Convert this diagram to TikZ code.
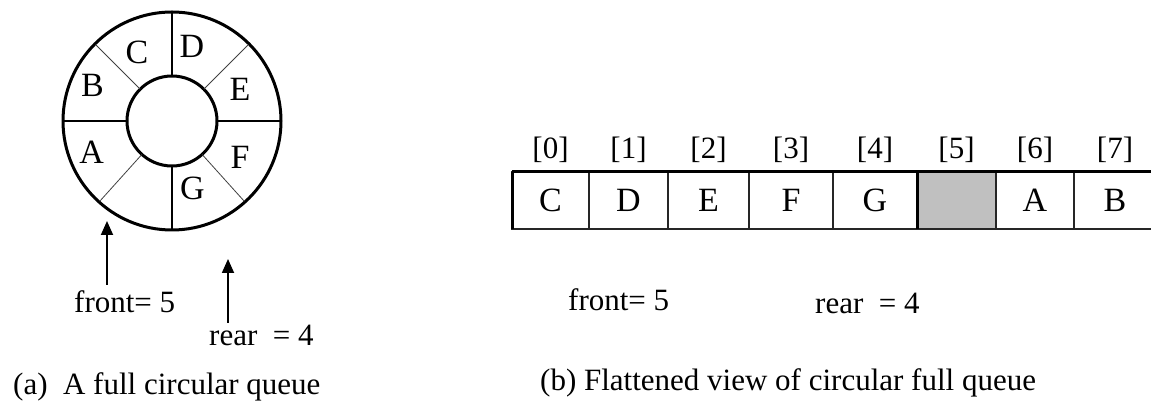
\documentclass[tikz,border=0pt]{standalone}
\usepackage{fontspec}
\setmainfont{Liberation Serif}
\usetikzlibrary{arrows.meta,calc}

\definecolor{slotgray}{RGB}{192,192,192}
\tikzset{txt/.style={inner sep=0pt,font=\fontsize{31}{36}\selectfont},
         letter/.style={inner sep=0pt,font=\fontsize{34}{38}\selectfont},
         ringline/.style={line width=1.4pt},
         ringdiag/.style={line width=0.8pt,black!75},
         cellbox/.style={letter,draw=black!85,line width=1.2pt,minimum height=57pt,outer sep=0pt},
         heavy/.style={line width=3pt},
         ptr/.style={line width=1.8pt,-{Triangle[length=14pt,width=12pt]}}}

\begin{document}
\begin{tikzpicture}[x=1pt,y=1pt]
                  \useasboundingbox (0,0) rectangle (1151,401);
                  % (a) the ring
                  \coordinate (ctr) at (172,280);
                  \draw[line width=3pt] (ctr) circle (109);
                  \draw[line width=3pt] (ctr) circle (45);
                  \foreach \a in {0,90,180,270}
                    \draw[ringline] ($(ctr)+(\a:45)$) -- ($(ctr)+(\a:109)$);
                  \foreach \a in {45,135,228,312}
                    \draw[ringdiag] ($(ctr)+(\a:45)$) -- ($(ctr)+(\a:108)$);
                  \foreach \v/\a/\r in {C/117/77,D/75/77,E/25/75,F/-28/77,G/-73/70,A/201/86,B/156/87}
                    \node[letter] (r\v) at ($(ctr)+(\a:\r)$) {\v};
                  % front and rear pointers
                  \node[txt,anchor=west] (front) at (74,99) {front= 5};
                  \node[txt,anchor=west] (rear) at (209,66) {rear\ \ = 4};
                  \coordinate (ftail) at (107,116);
                  \coordinate (fhead) at (107,180);
                  \coordinate (rtail) at (228,78);
                  \coordinate (rhead) at (228,142);
                  \draw[ptr] (ftail) -- (fhead);
                  \draw[ptr] (rtail) -- (rhead);
                  \node[txt,anchor=west] (capa) at (13,14) {(a)\ \ A full circular queue};
                  % (b) the array
                  \foreach \i/\xa/\xb/\v/\f in {0/512/589/C/white,1/589/668/D/white,2/668/749/E/white,
                      3/749/833/F/white,4/833/917/G/white,5/917/996/{}/slotgray,6/996/1074/A/white,7/1074/1156/B/white}{
                    \pgfmathsetmacro\w{\xb-\xa}
                    \node[cellbox,fill=\f,minimum width=\w pt] (c\i) at ({(\xa+\xb)/2},200.5) {\v};
                    \node[txt] (i\i) at ({(\xa+\xb)/2},251) {[\i]};
                  }
                  \draw[heavy] (c0.north west) -- (c7.north east);
                  \draw[heavy] (c0.north west) -- (c0.south west);
                  \draw[heavy] (c5.north west) -- (c5.south west);
                  \node[txt,anchor=west] (frontb) at (568,101) {front= 5};
                  \node[txt,anchor=west] (rearb) at (815,98) {rear\ \ = 4};
                  \node[txt,anchor=west] (capb) at (540,18) {(b) Flattened view of circular full queue};
              \end{tikzpicture}
\end{document}
